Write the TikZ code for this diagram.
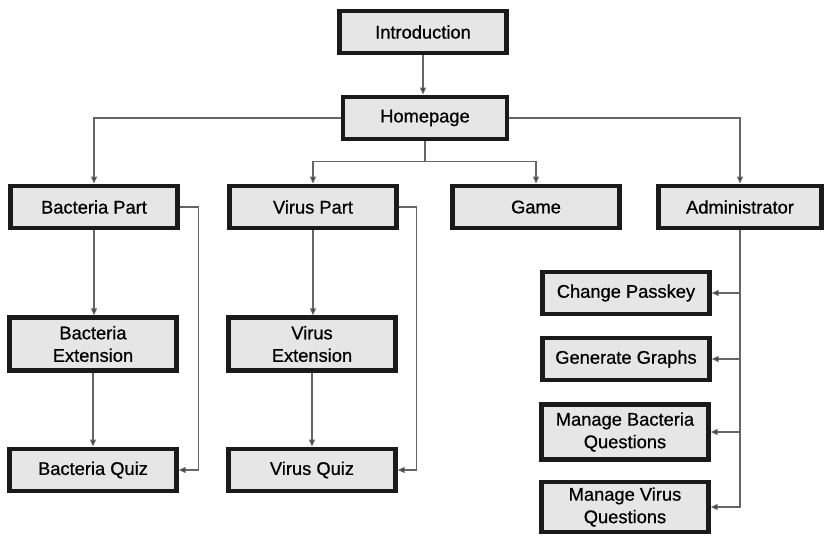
\documentclass[tikz,border=0pt]{standalone}
\usepackage{fontspec}
\setmainfont{Liberation Sans}
\newfontfamily\boxfont[FakeBold=0.7]{Liberation Sans}
\usetikzlibrary{arrows.meta}
\definecolor{boxfill}{HTML}{E6E6E6}
\definecolor{boxline}{HTML}{1A1A1A}
\definecolor{conn}{HTML}{666666}
\tikzset{
  box/.style={draw=boxline, line width=4.4pt, fill=boxfill, rectangle,
    minimum width=167pt, minimum height=42.5pt, inner sep=2pt, align=center,
    font=\boxfont\fontsize{18.3}{22.5}\selectfont, text=black},
  tall/.style={box, minimum height=53pt},
  conline/.style={draw=conn, line width=1.2pt},
  arr/.style={conline, -{Triangle[length=7pt,width=6pt,fill=black!80]}}
}
\begin{document}
\begin{tikzpicture}[x=1pt,y=-1pt]
\useasboundingbox (0,0) rectangle (825,535);
\node[box] (intro) at (423,32) {Introduction};
\node[box, minimum width=164pt] (home) at (425,118) {Homepage};
\node[box] (bp) at (94,207) {Bacteria Part};
\node[box] (vp) at (313,207) {Virus Part};
\node[box] (game) at (536,207) {Game};
\node[box, minimum width=163pt] (admin) at (740,207) {Administrator};
\node[tall] (bext) at (93,344) {Bacteria\\Extension};
\node[box] (bquiz) at (93,470) {Bacteria Quiz};
\node[tall] (vext) at (312,344) {Virus\\Extension};
\node[box] (vquiz) at (312,470) {Virus Quiz};
\node[box] (cp) at (626,293) {Change Passkey};
\node[box] (gg) at (626,359) {Generate Graphs};
\node[tall, minimum height=55pt] (mbq) at (625,432) {Manage Bacteria\\Questions};
\node[tall, minimum height=50pt] (mvq) at (625,507) {Manage Virus\\Questions};

\draw[arr] (intro.south) -- (home.north -| intro.south);
\draw[arr] (home.west) -| (bp.north);
\draw[arr] (home.east) -| (admin.north);
\coordinate (hs) at ([yshift=-20pt]home.south);
\draw[conline] (home.south) -- (hs);
\draw[arr] (hs) -| (vp.north);
\draw[arr] (hs) -| (game.north);
\draw[arr] (bp.south) -- (bext.north -| bp.south);
\draw[arr] (bext.south) -- (bquiz.north);
\draw[arr] (vp.south) -- (vext.north -| vp.south);
\draw[arr] (vext.south) -- (vquiz.north);
\draw[arr] (bp.east) -- ++(19,0) |- (bquiz.east);
\draw[arr] (vp.east) -- ++(18,0) |- (vquiz.east);
\draw[conline] (admin.south) -- (admin.south |- cp.east);
\draw[arr] (admin.south) |- (mvq.east);
\draw[arr] (admin.south |- cp.east) -- (cp.east);
\draw[arr] (admin.south |- gg.east) -- (gg.east);
\draw[arr] (admin.south |- mbq.east) -- (mbq.east);
\end{tikzpicture}
\end{document}
